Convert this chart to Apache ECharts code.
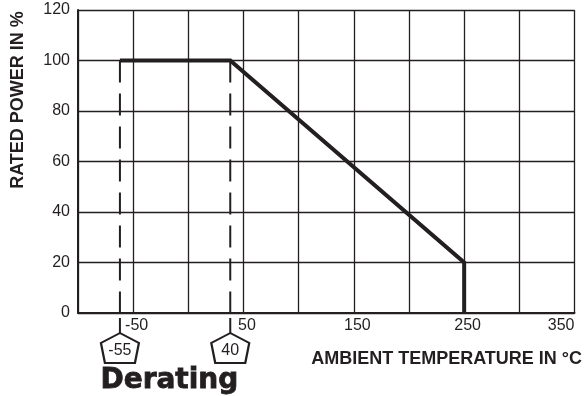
<!DOCTYPE html>
<html>
<head>
<meta charset="utf-8">
<script src="https://cdn.jsdelivr.net/npm/echarts@6/dist/echarts.min.js"></script>
<style>html,body{margin:0;padding:0;background:#fff}#c{width:584px;height:396px}</style>
</head>
<body>
<div id="c"></div>
<script>
// Data
var deratingCurve = [[-62, 100], [38, 100], [250, 20], [250, 0]]; // [°C, % rated power]
var markerTemps = [-62, 38];          // positions of dashed reference lines
var markerLabels = ['-55', '40'];     // labels in the pentagons
var xTickLabels = [-50, 50, 150, 250, 350];
var yTicks = [0, 20, 40, 60, 80, 100, 120];

var INK = '#231f20';
var FONT = '"Liberation Sans", Arial, Helvetica, sans-serif';

var chart = echarts.init(document.getElementById('c'), null, {renderer: 'canvas'});

var dashedSeries = markerTemps.map(function (t) {
  return {
    type: 'line',
    data: [[t, 100], [t, 0]],
    symbol: 'none',
    silent: true,
    lineStyle: {color: INK, width: 2, type: [22, 11]},
    z: 3
  };
});

var option = {
  backgroundColor: '#fff',
  animation: false,
  grid: {left: 78, right: 9.5, top: 10, bottom: 83, containLabel: false},
  xAxis: {
    type: 'value',
    min: -100, max: 350, interval: 50,
    axisLine: {show: true, onZero: false, lineStyle: {color: INK, width: 2}},
    axisTick: {show: false},
    splitLine: {show: true, lineStyle: {color: INK, width: 1.3}},
    axisLabel: {
      color: INK, fontFamily: FONT, fontSize: 16, margin: 5,
      padding: [0, 0, 0, 7],
      alignMaxLabel: 'right',
      formatter: function (v) { return xTickLabels.indexOf(v) >= 0 ? String(v) : ''; }
    }
  },
  yAxis: {
    type: 'value',
    min: 0, max: 120, interval: 20,
    axisLine: {show: true, onZero: false, lineStyle: {color: INK, width: 2}},
    axisTick: {show: false},
    splitLine: {show: true, lineStyle: {color: INK, width: 1.3}},
    axisLabel: {
      color: INK, fontFamily: FONT, fontSize: 16, margin: 8,
      formatter: function (v) { return yTicks.indexOf(v) >= 0 ? String(v) : ''; }
    }
  },
  graphic: [
    {
      type: 'text', x: 18, y: 100, rotation: Math.PI / 2,
      style: {text: 'RATED POWER IN %', fill: INK, font: 'bold 18px ' + FONT,
              textAlign: 'center', textVerticalAlign: 'middle'}
    },
    {
      type: 'text', right: 2, top: 350,
      style: {text: 'AMBIENT TEMPERATURE IN °C', fill: INK, font: 'bold 18px ' + FONT}
    },
    {
      type: 'text', left: 100, top: 366,
      style: {text: 'Derating', fill: INK, stroke: INK, lineWidth: 0.8,
              font: 'bold 28px "DejaVu Sans", sans-serif'}
    }
  ],
  series: dashedSeries.concat([
    {
      type: 'line',
      data: deratingCurve,
      symbol: 'none',
      silent: true,
      lineStyle: {color: INK, width: 4, join: 'miter'},
      z: 4
    },
    {
      type: 'scatter',
      data: markerTemps.map(function (t) { return [t, 0]; }),
      symbol: 'rect',
      symbolSize: [2, 15],
      symbolOffset: [0, 12.5],
      clip: false,
      silent: true,
      itemStyle: {color: INK, opacity: 1},
      z: 5
    },
    {
      type: 'scatter',
      data: markerTemps.map(function (t, i) { return {value: [t, 0], name: markerLabels[i]}; }),
      symbol: 'path://M19,0L38,10L34,30L4,30L0,10Z',
      symbolSize: [38, 30],
      symbolOffset: [0, 35],
      clip: false,
      silent: true,
      itemStyle: {color: '#fff', borderColor: INK, borderWidth: 2, opacity: 1},
      label: {
        show: true, position: 'inside', offset: [0, 3],
        formatter: function (p) { return p.name; },
        color: INK, fontFamily: FONT, fontSize: 16
      },
      z: 5
    }
  ])
};

chart.setOption(option);
</script>
</body>
</html>
